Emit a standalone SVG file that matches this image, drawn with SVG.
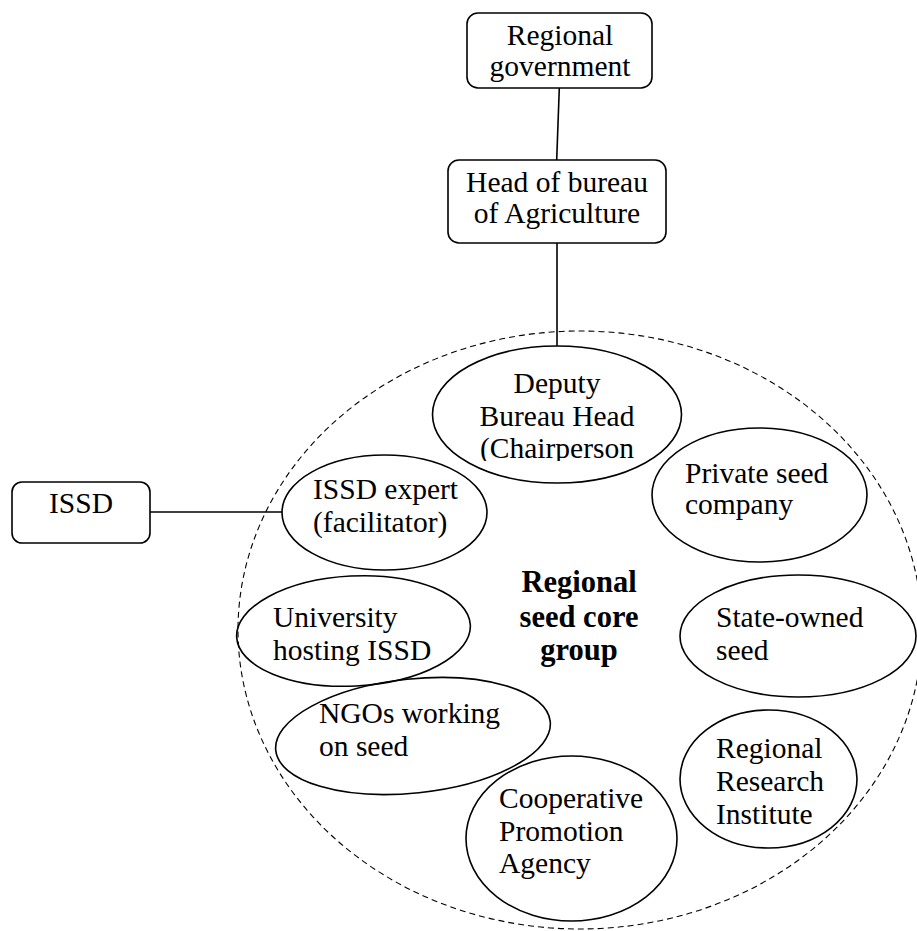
<svg xmlns="http://www.w3.org/2000/svg" width="917" height="931" viewBox="0 0 917 931">
<style>
  .box { fill: #ffffff; stroke: #000000; stroke-width: 1.6; }
  .ell { fill: none; stroke: #000000; stroke-width: 1.6; }
  .conn { stroke: #000000; stroke-width: 1.6; fill: none; }
  .group { fill: none; stroke: #000000; stroke-width: 1.1; stroke-dasharray: 6 4; }
  text { font-family: "Liberation Serif", "Times New Roman", serif; font-size: 29.5px; fill: #000000; }
  .c { text-anchor: middle; }
  .b { font-weight: bold; font-size: 30.5px; text-anchor: middle; }
</style>
<defs>
  <clipPath id="clipDeputy">
    <rect x="430" y="340" width="260" height="121"/>
  </clipPath>
</defs>
<rect width="917" height="931" fill="#ffffff"/>

<g id="core-group-boundary">
  <ellipse class="group" cx="580" cy="630" rx="342" ry="299"/>
</g>

<g id="connectors">
  <line class="conn" x1="559.3" y1="88" x2="556.7" y2="160"/>
  <line class="conn" x1="557" y1="243" x2="557" y2="346"/>
  <line class="conn" x1="150" y1="512" x2="282" y2="512"/>
</g>

<g id="regional-government">
  <rect class="box" x="467" y="13" width="185" height="75" rx="11" ry="11"/>
  <text class="c" x="560" y="45">Regional</text>
  <text class="c" x="560" y="76">government</text>
</g>

<g id="head-of-bureau">
  <rect class="box" x="448" y="160" width="218" height="83" rx="11" ry="11"/>
  <text class="c" x="557" y="192">Head of bureau</text>
  <text class="c" x="557" y="223">of Agriculture</text>
</g>

<g id="issd">
  <rect class="box" x="12" y="482" width="138" height="61" rx="10" ry="10"/>
  <text class="c" x="81" y="513">ISSD</text>
</g>

<g id="deputy-bureau-head">
  <ellipse class="ell" cx="557" cy="414.5" rx="124.5" ry="68.5"/>
  <g clip-path="url(#clipDeputy)">
    <text class="c" x="557" y="393">Deputy</text>
    <text class="c" x="557" y="426">Bureau Head</text>
    <text class="c" x="557" y="458">(Chairperson</text>
  </g>
</g>

<g id="private-seed-company">
  <ellipse class="ell" cx="759.5" cy="495" rx="107.5" ry="67"/>
  <text x="685" y="483">Private seed</text>
  <text x="685" y="514">company</text>
</g>

<g id="issd-expert">
  <ellipse class="ell" cx="384.5" cy="512.5" rx="102.5" ry="57.5"/>
  <text x="313" y="499">ISSD expert</text>
  <text x="313" y="532">(facilitator)</text>
</g>

<g id="regional-seed-core-group-label">
  <text class="b" x="579" y="592">Regional</text>
  <text class="b" x="579" y="627">seed core</text>
  <text class="b" x="579" y="660">group</text>
</g>

<g id="university-hosting-issd">
  <ellipse class="ell" cx="353.5" cy="631" rx="117" ry="55" transform="rotate(-3 353.5 631)"/>
  <text x="273" y="627">University</text>
  <text x="273" y="660">hosting ISSD</text>
</g>

<g id="state-owned-seed">
  <ellipse class="ell" cx="798" cy="636" rx="118" ry="61"/>
  <text x="716" y="627">State-owned</text>
  <text x="716" y="660">seed</text>
</g>

<g id="ngos-working-on-seed">
  <ellipse class="ell" cx="413" cy="736" rx="138" ry="57" transform="rotate(-6 413 736)"/>
  <text x="319" y="723">NGOs working</text>
  <text x="319" y="756">on seed</text>
</g>

<g id="regional-research-institute">
  <ellipse class="ell" cx="768.5" cy="779" rx="88.5" ry="69"/>
  <text x="716" y="758">Regional</text>
  <text x="716" y="791">Research</text>
  <text x="716" y="824">Institute</text>
</g>

<g id="cooperative-promotion-agency">
  <ellipse class="ell" cx="571.5" cy="838.5" rx="105.5" ry="82.5"/>
  <text x="499" y="808">Cooperative</text>
  <text x="499" y="841">Promotion</text>
  <text x="499" y="873">Agency</text>
</g>
</svg>
